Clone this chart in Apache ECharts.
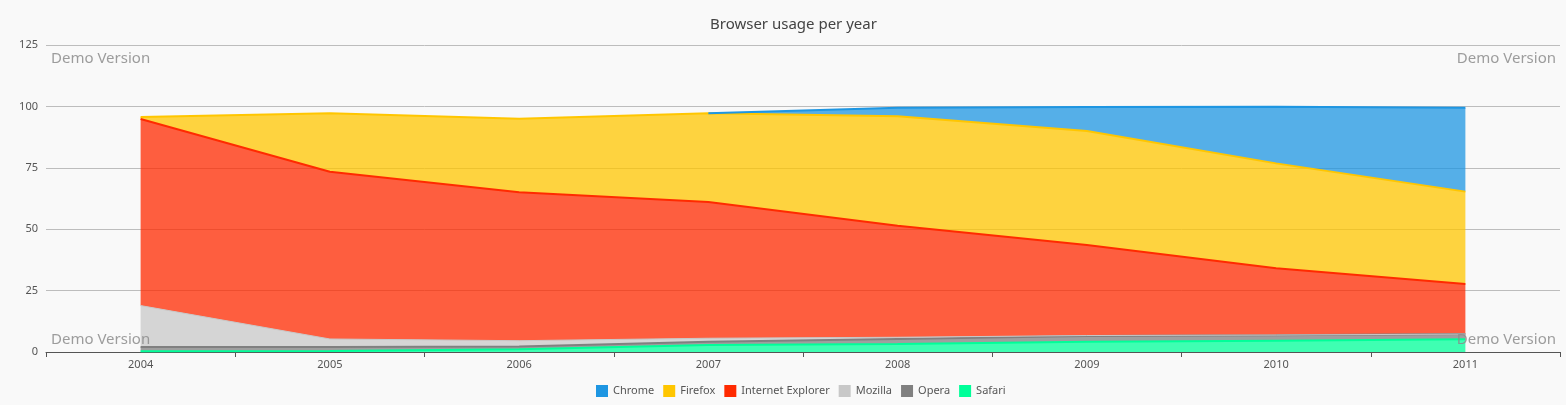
<!DOCTYPE html>
<html>
<head>
<meta charset="utf-8">
<script src="https://cdn.jsdelivr.net/npm/echarts@6/dist/echarts.min.js"></script>
<style>
html,body{margin:0;padding:0;background:#f9f9f9;}
#chart{width:1566px;height:405px;}
</style>
</head>
<body>
<div id="chart"></div>
<script>
const years = ['2004','2005','2006','2007','2008','2009','2010','2011'];
const chrome = [null, null, null, 0, 3.5, 9.8, 23.1, 34.2];
const firefox = [0.8, 23.8, 30.0, 36.1, 44.6, 46.4, 42.7, 37.6];
const ie = [76.0, 68.1, 60.4, 55.5, 45.4, 36.9, 27.2, 20.4];
const mozilla = [16.9, 3.3, 2.4, 1.4, 0.7, 0.2, 0.1, 0];
const opera = [1.7, 1.6, 1.1, 1.4, 2.0, 2.3, 2.2, 2.1];
const safari = [0.3, 0.4, 1.1, 2.8, 3.3, 4.2, 4.6, 5.2];
const yTicks = [0, 25, 50, 75, 100, 125];

const names = ['Chrome','Firefox','Internet Explorer','Mozilla','Opera','Safari'];
const colors = {Chrome:'#1e96e2', Firefox:'#ffc600', 'Internet Explorer':'#ff2a00', Mozilla:'#c8c8c8', Opera:'#808080', Safari:'#00ff99'};
const lineWidths = {Chrome:2, Firefox:2, 'Internet Explorer':2, Mozilla:1, Opera:2, Safari:2};
const dataMap = {Chrome:chrome, Firefox:firefox, 'Internet Explorer':ie, Mozilla:mozilla, Opera:opera, Safari:safari};
const stackOrder = ['Safari','Opera','Mozilla','Internet Explorer','Firefox','Chrome'];

const font = 'Noto Sans';
const chart = echarts.init(document.getElementById('chart'));
const wm = (pos) => Object.assign({type:'text', z:100, style:{text:'Demo Version', fill:'rgba(140,140,140,0.85)', font:'15px "Noto Sans"'}}, pos);
chart.setOption({
  backgroundColor:'#f9f9f9',
  animation:false,
  title:{text:'Browser usage per year', left:705, top:12, textStyle:{fontFamily:font, fontSize:15, fontWeight:'normal', color:'#444'}},
  legend:{data:names, bottom:3, left:591, itemWidth:12, itemHeight:12, icon:'rect', itemGap:9,
    textStyle:{fontFamily:font, fontSize:11, color:'#555'}},
  grid:{left:46, right:6, top:45, bottom:53, containLabel:false},
  xAxis:{type:'category', data:years, boundaryGap:true,
    axisLine:{lineStyle:{color:'#555', width:1}},
    axisTick:{show:true, length:5, lineStyle:{color:'#555'}},
    axisLabel:{fontFamily:font, fontSize:11, color:'#555', margin:7}},
  yAxis:{type:'value', min:yTicks[0], max:yTicks[yTicks.length-1], interval:25,
    axisLine:{show:false}, axisTick:{show:false},
    axisLabel:{fontFamily:font, fontSize:11, color:'#555', margin:8},
    splitLine:{lineStyle:{color:'#bdbdbd', width:1}}},
  graphic:[
    wm({left:51, top:51}),
    wm({right:10, top:51}),
    wm({left:51, top:332}),
    wm({right:10, top:332})
  ],
  series: stackOrder.map(n => ({
    name:n, type:'line', stack:'total', data:dataMap[n], symbol:'none',
    itemStyle:{color:colors[n]},
    lineStyle:{color:colors[n], width:lineWidths[n]},
    areaStyle:{color:colors[n], opacity:0.75}
  }))
});
</script>
</body>
</html>
